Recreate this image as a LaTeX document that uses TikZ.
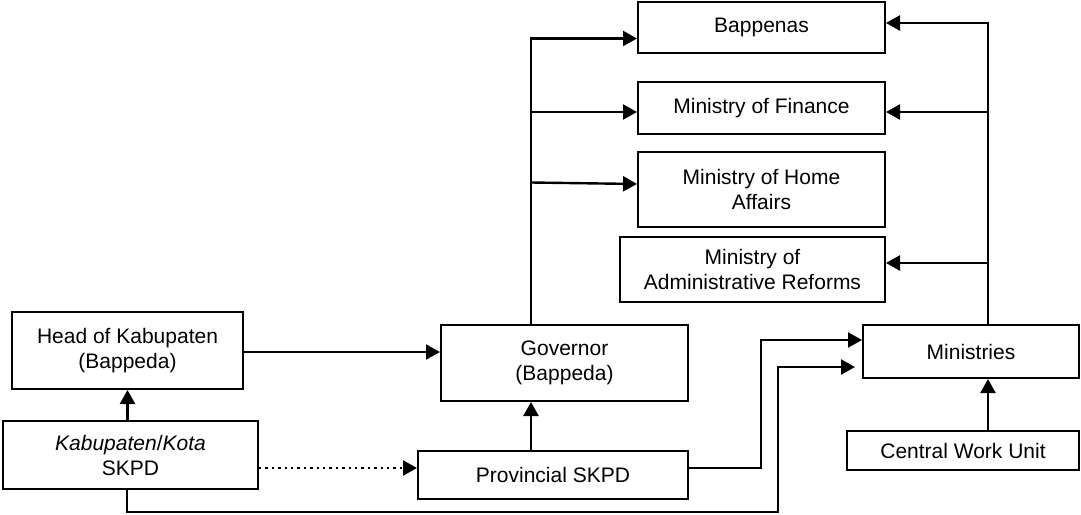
\documentclass[tikz,border=0pt]{standalone}
\usepackage{fontspec}
\setmainfont{Liberation Sans}
\usetikzlibrary{arrows.meta}
\tikzstyle{block} = [rectangle, draw, line width=1pt, align=center,
    font=\fontsize{10.5}{12.5}\selectfont]

\begin{document}
\begin{tikzpicture}[
x=0.5pt, y=-0.5pt,
link/.style = {draw, line width=1.2pt, -{Triangle[length=7pt,width=7.5pt]}},
plain/.style = {draw, line width=1.2pt}
                        ]
\useasboundingbox (0,0) rectangle (1081,514);

% central agencies
\node [block, minimum width=123.5pt, minimum height=25.5pt] (bap) at (761.5,27.5) {Bappenas};
\node [block, minimum width=123.5pt, minimum height=26pt] (fin) at (761.5,108) {Ministry of Finance};
\node [block, minimum width=123.5pt, minimum height=37.5pt] (home) at (761.5,189.5) {Ministry of Home\\Affairs};
\node [block, minimum width=132.5pt, minimum height=32.5pt] (admin) at (752.5,269.5) {Ministry of\\Administrative Reforms};

% regions and ministries
\node [block, minimum width=115.5pt, minimum height=38.5pt] (head) at (127.5,350.5) {Head of Kabupaten\\(Bappeda)};
\node [block, minimum width=127.5pt, minimum height=34pt] (kota) at (130.5,455) {\textit{Kabupaten}/\textit{Kota}\\SKPD};
\node [block, minimum width=123.5pt, minimum height=38pt] (gov) at (564.5,363) {Governor\\(Bappeda)};
\node [block, minimum width=135pt, minimum height=24pt] (prov) at (553,475) {Provincial SKPD};
\node [block, minimum width=108pt, minimum height=26.5pt] (mins) at (971,351.5) {Ministries};
\node [block, minimum width=116pt, minimum height=19.5pt] (cwu) at (963,450.5) {Central Work Unit};

\coordinate (gx) at (531,0);
\coordinate (mx) at (988,0);
\coordinate (jk) at (778,512);

% kabupaten side
\draw [link] (kota.north -| head) -- (head.south);
\draw [link] ([yshift=-0.75pt]head.east) -- ([yshift=-0.75pt]gov.west |- head.east);
\draw [link, dotted] ([yshift=3.5pt]prov.west -| kota.east) -- ([yshift=3.5pt]prov.west);
\draw [link] ([xshift=-1.75pt]kota.south) |- (jk) |- ([xshift=-3.5pt,yshift=-7.75pt]mins.west);

% province side
\draw [link] (prov.north -| gx) -- (gov.south -| gx);
\draw [link] ([yshift=3.5pt]prov.east) -- ++(72,0) |- ([yshift=5.75pt]mins.west);
\draw [link] (gov.north -| gx) |- ([yshift=-5.5pt]bap.west);
\draw [link] (gx |- fin.west) ++(0,4) -- ([yshift=-2pt]fin.west);
\draw [link] (gx |- home.west) ++(0,-7) -- ([yshift=2.75pt]home.west);

% ministries side
\draw [link] (cwu.north -| mx) -- (mins.south -| mx);
\draw [link] (mins.north -| mx) |- ([yshift=2.25pt]bap.east);
\draw [link] (mx |- fin.east) ++(0,4) -- ([yshift=-2pt]fin.east);
\draw [link] (mx |- admin.east) ++(0,-6.5) -- ([yshift=3.25pt]admin.east);
\end{tikzpicture}
\end{document}
